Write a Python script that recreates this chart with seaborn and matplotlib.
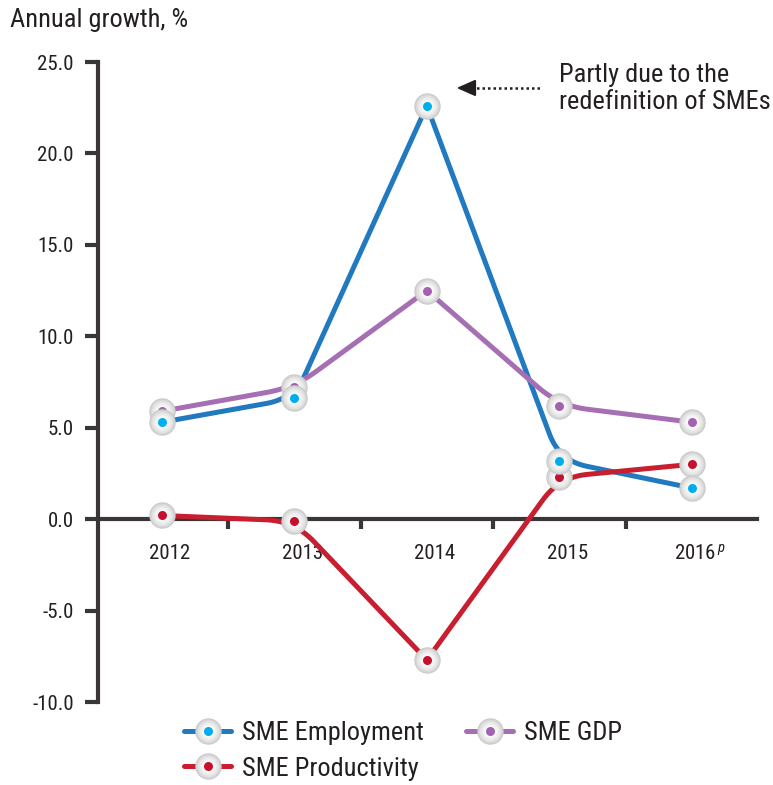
import numpy as np
import pandas as pd
import seaborn as sns
import matplotlib.pyplot as plt
import matplotlib.transforms as mtransforms
from matplotlib import font_manager
from matplotlib.lines import Line2D

# ---- data -------------------------------------------------------------
years = ["2012", "2013", "2014", "2015", "2016"]
year_labels = ["2012", "2013", "2014", "2015", "2016$^{\\,p}$"]
employment = [5.3, 6.6, 22.6, 3.2, 1.7]
gdp = [5.9, 7.2, 12.5, 6.2, 5.3]
productivity = [0.2, -0.1, -7.7, 2.3, 3.0]
y_ticks = [-10, -5, 0, 5, 10, 15, 20, 25]

series = {
    "SME Employment": employment,
    "SME GDP": gdp,
    "SME Productivity": productivity,
}
line_colors = {
    "SME Employment": "#2179bf",
    "SME GDP": "#a76fb3",
    "SME Productivity": "#c81e2f",
}
dot_colors = {
    "SME Employment": "#00aeef",
    "SME GDP": "#a362b0",
    "SME Productivity": "#c8102e",
}

# ---- style ------------------------------------------------------------
sns.set_theme(style="white")
names = {f.name for f in font_manager.fontManager.ttflist}
base_font = "Roboto Condensed" if "Roboto Condensed" in names else "Roboto"
plt.rcParams["font.family"] = [base_font, "DejaVu Sans"]
plt.rcParams["mathtext.fontset"] = "custom"
plt.rcParams["mathtext.it"] = base_font + ":italic"
plt.rcParams["mathtext.rm"] = base_font

axis_color = "#3a3536"
text_color = "#231f20"

fig = plt.figure(figsize=(7.73, 7.85), dpi=100)
ax = fig.add_axes([98 / 773, 1 - 702 / 785, (757 - 98) / 773, (702 - 62) / 785])

df = pd.concat(
    [pd.DataFrame({"pos": np.arange(len(years)), "year": years, "value": v, "series": k})
     for k, v in series.items()],
    ignore_index=True,
)

sns.lineplot(
    data=df, x="pos", y="value", hue="series", palette=line_colors,
    linewidth=3.6, legend=False, sort=False, estimator=None, ax=ax,
    solid_joinstyle="round", solid_capstyle="round", zorder=3,
)
ax.set_xlim(-0.48, 4.49)
ax.set_ylim(-10, 25)


def round_corners(line, reach_px=28, steps=16):
    """Soften the gentle bends of a polyline with quadratic curves (screen space);
    sharp peaks are left pointed."""
    xd, yd = line.get_data()
    pts = ax.transData.transform(np.column_stack([xd, yd]))
    out = [pts[0]]
    for i in range(1, len(pts) - 1):
        p0, v, p2 = pts[i - 1], pts[i], pts[i + 1]
        a, b = p0 - v, p2 - v
        la, lb = np.hypot(*a), np.hypot(*b)
        angle = np.degrees(np.arccos(np.clip(np.dot(a, b) / (la * lb), -1, 1)))
        d = reach_px * np.clip((angle - 90) / 30, 0, 1)
        d = min(d, 0.45 * la, 0.45 * lb)
        if d < 1:
            out.append(v)
            continue
        s, e = v + a / la * d, v + b / lb * d
        t = np.linspace(0, 1, steps)[:, None]
        out.extend((1 - t) ** 2 * s + 2 * (1 - t) * t * v + t ** 2 * e)
    out.append(pts[-1])
    back = ax.transData.inverted().transform(np.array(out))
    line.set_data(back[:, 0], back[:, 1])


for ln in list(ax.lines):
    round_corners(ln)

# shaded sphere markers with a coloured centre dot
sphere_layers = [(19.0, "#c9c9c9"), (17.5, "#d6d6d6"), (15.5, "#e2e2e2"),
                 (13.0, "#ececec"), (10.5, "#f4f4f4"), (8.0, "#fafafa")]


def draw_spheres(sub, dot_color, z):
    for size, col in sphere_layers:
        ax.scatter(sub["pos"], sub["value"], s=size ** 2, color=col,
                   linewidths=0, zorder=z)
    ax.scatter(sub["pos"], sub["value"], s=6.5 ** 2, color=dot_color,
               linewidths=0, zorder=z + 0.5)


for i, name in enumerate(["SME Productivity", "SME GDP", "SME Employment"]):
    draw_spheres(df[df["series"] == name], dot_colors[name], 5 + i)

# ---- axes -------------------------------------------------------------
for side in ["top", "right"]:
    ax.spines[side].set_visible(False)
ax.spines["left"].set_color(axis_color)
ax.spines["left"].set_linewidth(3.0)
ax.spines["bottom"].set_color(axis_color)
ax.spines["bottom"].set_linewidth(3.0)
ax.spines["bottom"].set_position(("data", 0))

ax.set_yticks(y_ticks)
ax.set_yticklabels([f"{v:.1f}" for v in y_ticks])
ax.tick_params(axis="y", direction="out", length=9.5, width=3.0, color=axis_color,
               pad=8, labelsize=15, labelcolor=text_color, left=True)

ax.set_xticks([0.5, 1.5, 2.5, 3.5])
ax.set_xticklabels([])
ax.tick_params(axis="x", which="major", direction="out", length=7, width=3.0,
               color=axis_color, bottom=True)
ax.set_xticks(np.arange(len(years)), minor=True)
ax.set_xticklabels(year_labels, minor=True)
ax.tick_params(axis="x", which="minor", length=0, pad=18, labelsize=15,
               labelcolor=text_color)
# year labels sit a little to the right of their points
shift = mtransforms.ScaledTranslation(8 / 100, 0, fig.dpi_scale_trans)
for lab in ax.get_xticklabels(minor=True):
    lab.set_transform(lab.get_transform() + shift)
ax.set_xlabel("")
ax.set_ylabel("")
ax.grid(False)

fig.text(10 / 773, 1 - 20 / 785, "Annual growth, %", fontsize=19,
         color=text_color, va="center", ha="left")

# ---- annotation -------------------------------------------------------
ax.plot([2.33, 2.86], [23.58, 23.58], linestyle=(0, (1, 1.2)), color=text_color,
        linewidth=1.8, zorder=4)
ax.annotate("", xy=(2.225, 23.58), xytext=(2.34, 23.58),
            arrowprops=dict(arrowstyle="-|>,head_length=0.95,head_width=0.42",
                            color=text_color, lw=1.5, shrinkA=0, shrinkB=0),
            zorder=4)
ax.text(3.0, 23.55, "Partly due to the\nredefinition of SMEs", fontsize=19,
        color=text_color, ha="left", va="center", linespacing=1.17)

# ---- legend -----------------------------------------------------------
handles = []
order = ["SME Employment", "SME Productivity", "SME GDP"]
for name in order:
    ln = Line2D([], [], color=line_colors[name], linewidth=3.6)
    parts = [ln]
    for size, col in sphere_layers:
        parts.append(Line2D([], [], linestyle="none", marker="o", markersize=size,
                            markerfacecolor=col, markeredgewidth=0))
    parts.append(Line2D([], [], linestyle="none", marker="o", markersize=6.5,
                        markerfacecolor=dot_colors[name], markeredgewidth=0))
    handles.append(tuple(parts))

fig.legend(handles, order, ncol=2, loc="upper left",
           bbox_to_anchor=(160 / 773, 1 - 697 / 785), frameon=False,
           fontsize=19, handlelength=1.8, handletextpad=0.4,
           columnspacing=1.6, labelspacing=0.45, labelcolor=text_color)

fig.savefig("out.png", dpi=100)
